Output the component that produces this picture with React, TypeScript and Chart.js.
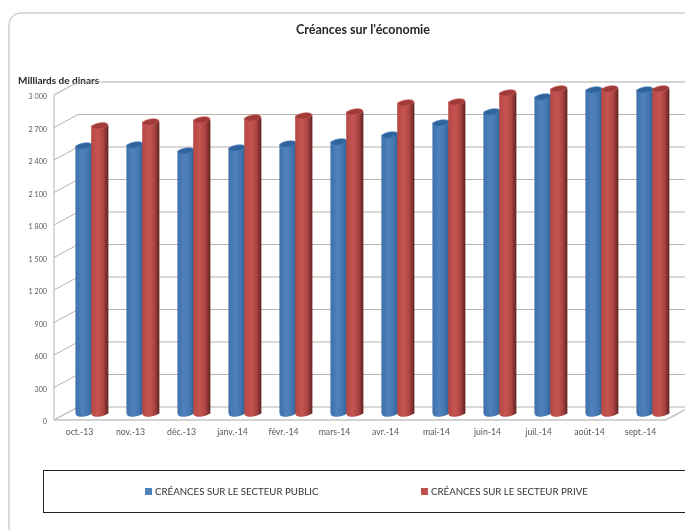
import React, { useEffect, useRef } from "react";
import { Chart, registerables } from "chart.js";

Chart.register(...registerables);

const categories = ["oct.-13", "nov.-13", "déc.-13", "janv.-14", "févr.-14", "mars-14", "avr.-14", "mai-14", "juin-14", "juil.-14", "août-14", "sept.-14"];
const publicValues = [2470, 2479, 2424, 2451, 2488, 2507, 2571, 2682, 2784, 2922, 2987, 2987];
const priveValues = [2655, 2691, 2710, 2728, 2747, 2784, 2867, 2876, 2959, 2996, 2996, 2996];
const publicLabel = "CRÉANCES SUR LE SECTEUR PUBLIC";
const priveLabel = "CRÉANCES SUR LE SECTEUR PRIVE";
const titleText = "Créances sur l'économie";
const unitText = "Milliards de dinars";

const FONT = "Lato, Carlito, sans-serif";
const DEPTH_X = 24;
const DEPTH_Y = -13;
const BAR_W = 16.5;

function cylinderFill(chart: any, dataIndex: number, dx: number, stops: string[]) {
  const xs = chart.scales?.x;
  if (!xs || !chart.chartArea) return stops[1];
  const cx = xs.getPixelForValue(dataIndex);
  const g = chart.ctx.createLinearGradient(cx - BAR_W / 2, 0, cx + BAR_W / 2, 0);
  g.addColorStop(0, stops[0]);
  g.addColorStop(0.4, stops[1]);
  g.addColorStop(0.72, stops[2]);
  g.addColorStop(1, stops[3]);
  return g;
}

const BLUE = ["#3f71ab", "#4f81bd", "#4476b0", "#2f5f92"];
const RED = ["#b54845", "#c65451", "#ab4542", "#652523"];
const SHIFT: Record<string, { dx: number; top: string; rim: string }> = {
  public: { dx: 4.5, top: "#2f659c", rim: "#4f81bd" },
  prive: { dx: 20.3, top: "#a03b39", rim: "#c9605c" },
};

const scenePlugin = {
  id: "scene",
  beforeDraw(chart: any) {
    const { ctx, width, height } = chart;
    ctx.save();
    ctx.fillStyle = "#ffffff";
    ctx.fillRect(0, 0, width, height);
    ctx.strokeStyle = "#d0d0d0";
    ctx.lineWidth = 1.5;
    ctx.beginPath();
    ctx.roundRect(9, 13, width + 40, height + 40, 12);
    ctx.stroke();
    ctx.fillStyle = "#262626";
    ctx.font = `bold 12.5px ${FONT}`;
    ctx.textAlign = "center";
    ctx.textBaseline = "middle";
    ctx.fillText(titleText, 363, 30);
    ctx.font = `bold 10px ${FONT}`;
    ctx.textAlign = "left";
    ctx.fillText(unitText, 18, 80.5);

    ctx.strokeStyle = "#222";
    ctx.lineWidth = 1;
    ctx.strokeRect(43.5, 470.5, width, 42);
    ctx.font = `9.7px ${FONT}`;
    ctx.fillStyle = "#4f81bd";
    ctx.fillRect(145, 488, 7, 7);
    ctx.fillStyle = "#c0504d";
    ctx.fillRect(421, 488, 7, 7);
    ctx.fillStyle = "#333";
    ctx.fillText(publicLabel, 155, 491.5);
    ctx.fillText(priveLabel, 431, 491.5);
    ctx.restore();
  },
  beforeDatasetsDraw(chart: any) {
    const { ctx, chartArea, scales } = chart;
    const y = scales.y;
    ctx.save();
    y.ticks.forEach((t: any) => {
      const p = y.getPixelForValue(t.value);
      const top = t.value === 3000;
      ctx.strokeStyle = top ? "#a9a9a5" : "#b9b3ab";
      ctx.lineWidth = t.value === 0 ? 1.2 : 1;
      ctx.beginPath();
      ctx.moveTo(chartArea.left, p);
      ctx.lineTo(chartArea.left + DEPTH_X, p + DEPTH_Y);
      ctx.lineTo(chart.width, p + DEPTH_Y);
      ctx.stroke();
    });
    ctx.strokeStyle = "#b4b4b4";
    ctx.lineWidth = 1;
    ctx.beginPath();
    ctx.moveTo(chartArea.left, chartArea.top);
    ctx.lineTo(chartArea.left, chartArea.bottom);
    ctx.stroke();
    ctx.strokeStyle = "#c4c4c4";
    ctx.lineWidth = 1.5;
    ctx.beginPath();
    ctx.moveTo(chartArea.left, chartArea.bottom);
    ctx.lineTo(chartArea.right, chartArea.bottom);
    ctx.lineTo(chartArea.right + DEPTH_X, chartArea.bottom + DEPTH_Y);
    ctx.stroke();
    ctx.restore();
  },
  beforeDatasetDraw(chart: any, args: any) {
    const key = chart.data.datasets[args.index].key;
    chart.ctx.save();
    chart.ctx.translate(SHIFT[key].dx, DEPTH_Y / 2);
  },
  afterDatasetDraw(chart: any, args: any) {
    const ds = chart.data.datasets[args.index];
    const { ctx } = chart;
    const s = SHIFT[ds.key];
    const rot = -0.16;
    args.meta.data.forEach((el: any, i: number) => {
      ctx.fillStyle = cylinderFill(chart, i, 0, ds.key === "public" ? BLUE : RED);
      ctx.beginPath();
      ctx.ellipse(el.x, el.base, BAR_W / 2, 3, rot, 0, Math.PI * 2);
      ctx.fill();
      ctx.fillStyle = s.top;
      ctx.strokeStyle = s.rim;
      ctx.lineWidth = 0.6;
      ctx.beginPath();
      ctx.ellipse(el.x, el.y, BAR_W / 2, 3, rot, 0, Math.PI * 2);
      ctx.fill();
      ctx.stroke();
    });
    ctx.restore();
  },
};

export default function App() {
  const ref = useRef<HTMLCanvasElement>(null);
  useEffect(() => {
    const chart = new Chart(ref.current!, {
      type: "bar",
      data: {
        labels: categories,
        datasets: [
          {
            key: "public",
            label: publicLabel,
            data: publicValues,
            order: 1,
            backgroundColor: (c: any) => cylinderFill(c.chart, c.dataIndex, 0, BLUE),
          },
          {
            key: "prive",
            label: priveLabel,
            data: priveValues,
            order: 0,
            backgroundColor: (c: any) => cylinderFill(c.chart, c.dataIndex, 0, RED),
          },
        ] as any,
      },
      options: {
        responsive: false,
        animation: false,
        devicePixelRatio: 1,
        layout: { padding: { left: 0, top: 95, right: 19, bottom: 0 } },
        datasets: { bar: { grouped: false, barThickness: BAR_W, clip: false } as any },
        plugins: { legend: { display: false }, title: { display: false }, tooltip: { enabled: false } },
        scales: {
          x: {
            grid: { display: false, drawTicks: false },
            border: { display: false },
            afterFit: (s: any) => { s.height = 110; },
            ticks: { color: "#595959", font: { family: FONT, size: 8.7 }, padding: 7, maxRotation: 0, autoSkip: false },
          },
          y: {
            min: 0,
            max: 3000,
            grid: { display: false, drawTicks: false },
            border: { display: false },
            afterFit: (s: any) => { s.width = 54; },
            ticks: {
              stepSize: 300,
              color: "#595959",
              padding: 7,
              labelOffset: 2,
              font: { family: FONT, size: 7.2 },
              callback: (v: any) => String(v).replace(/\B(?=(\d{3})+$)/g, " "),
            },
          },
        },
      },
      plugins: [scenePlugin],
    } as any);
    return () => chart.destroy();
  }, []);
  return (
    <canvas
      ref={ref}
      width={685}
      height={530}
      style={{ position: "fixed", left: 0, top: 0, display: "block" }}
    />
  );
}
